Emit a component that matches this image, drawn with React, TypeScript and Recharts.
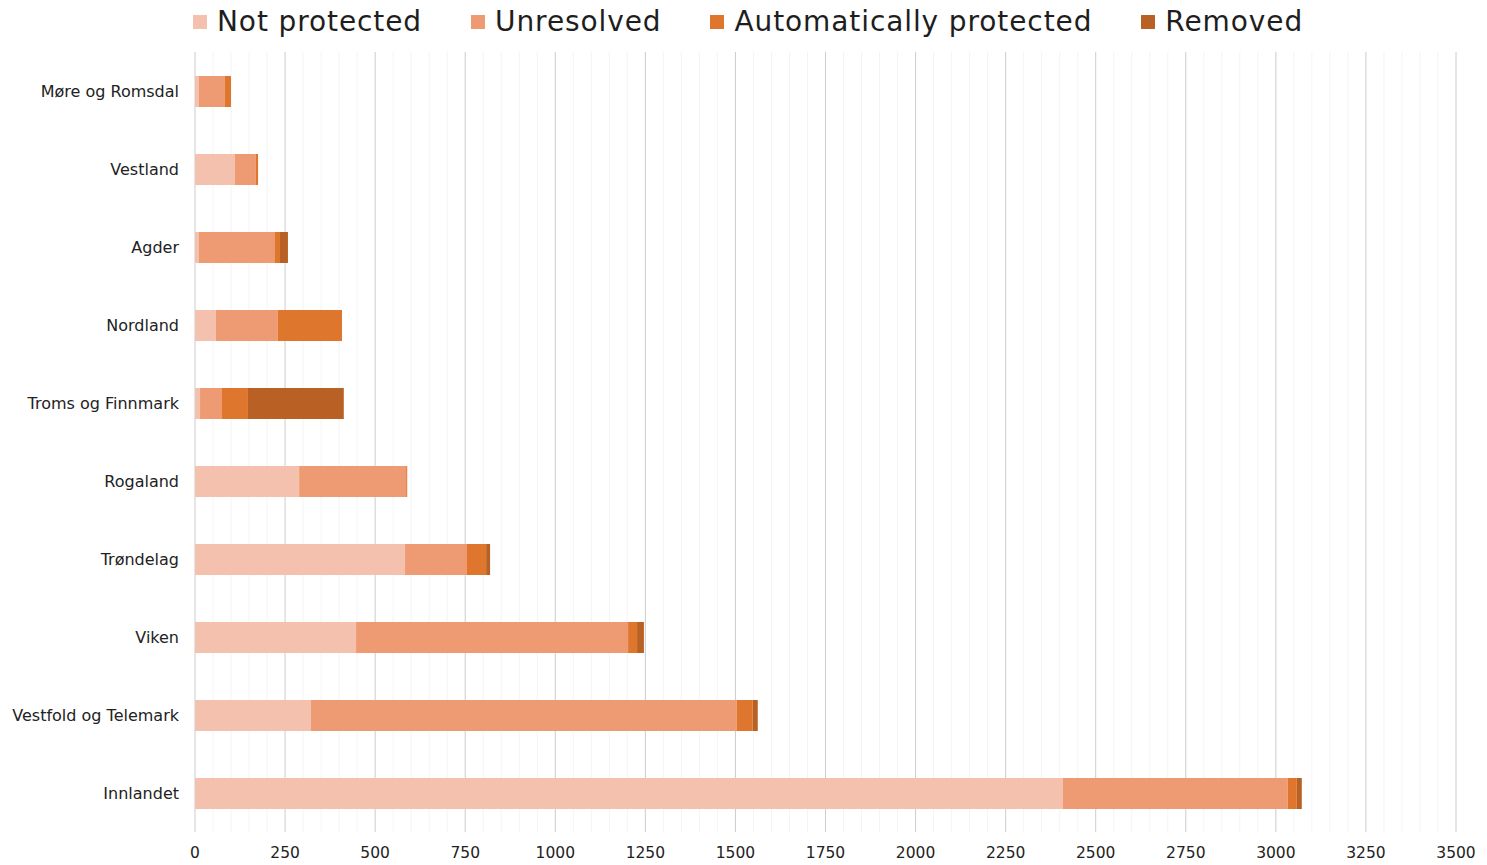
import React from 'react';
import { BarChart, Bar, XAxis, YAxis, CartesianGrid } from 'recharts';

const regions = [
  'Møre og Romsdal',
  'Vestland',
  'Agder',
  'Nordland',
  'Troms og Finnmark',
  'Rogaland',
  'Trøndelag',
  'Viken',
  'Vestfold og Telemark',
  'Innlandet',
];
const notProtected = [11, 111, 11, 58, 14, 289, 583, 447, 322, 2409];
const unresolved = [72, 58, 211, 172, 61, 297, 172, 755, 1182, 624];
const autoProtected = [17, 6, 14, 178, 72, 3, 53, 25, 44, 25];
const removed = [0, 0, 22, 0, 266, 0, 11, 19, 14, 14];

const xTicks = [0, 250, 500, 750, 1000, 1250, 1500, 1750, 2000, 2250, 2500, 2750, 3000, 3250, 3500];
const minorStep = 50;

const series = [
  { key: 'notProtected', name: 'Not protected', color: '#f4c1ae' },
  { key: 'unresolved', name: 'Unresolved', color: '#ee9a72' },
  { key: 'autoProtected', name: 'Automatically protected', color: '#df762e' },
  { key: 'removed', name: 'Removed', color: '#b96024' },
];

const data = regions.map((region, i) => ({
  region,
  notProtected: notProtected[i],
  unresolved: unresolved[i],
  autoProtected: autoProtected[i],
  removed: removed[i],
}));

// faint minor lines between the labelled ticks
const minorTicks: number[] = [];
for (let v = 0; v <= xTicks[xTicks.length - 1]; v += minorStep) {
  if (v % 250 !== 0) minorTicks.push(v);
}

const font = '"DejaVu Sans", Verdana, sans-serif';

const TopLegend = () => (
  <div
    style={{
      position: 'absolute',
      top: 5,
      left: 193,
      display: 'flex',
      alignItems: 'center',
      fontFamily: font,
      fontSize: 28,
      letterSpacing: 0.9,
      color: '#1e1e1e',
      whiteSpace: 'nowrap',
    }}
  >
    {series.map((s) => (
      <div key={s.key} style={{ display: 'flex', alignItems: 'center', marginRight: 49 }}>
        <span style={{ width: 14, height: 14, background: s.color, marginRight: 10 }} />
        <span>{s.name}</span>
      </div>
    ))}
  </div>
);

export default function App() {
  return (
    <div style={{ position: 'absolute', left: 0, top: 0, width: 1487, height: 865, background: '#fff' }}>
      <TopLegend />
      <BarChart
        width={1487}
        height={865}
        data={data}
        layout="vertical"
        margin={{ top: 52, right: 31, bottom: 3, left: 0 }}
      >
        <CartesianGrid horizontal={false} verticalValues={minorTicks} stroke="#f4f4f4" />
        <CartesianGrid horizontal={false} stroke="#cccccc" />
        <XAxis
          type="number"
          domain={[0, 3500]}
          ticks={xTicks}
          interval={0}
          axisLine={false}
          tickLine={false}
          tickMargin={9}
          tick={{ fontFamily: font, fontSize: 15.5, fill: '#222' }}
        />
        <YAxis
          type="category"
          dataKey="region"
          width={195}
          axisLine={false}
          tickLine={false}
          tickMargin={10}
          interval={0}
          tick={{ fontFamily: font, fontSize: 16, fill: '#222' }}
        />
        {series.map((s) => (
          <Bar
            key={s.key}
            dataKey={s.key}
            name={s.name}
            stackId="a"
            fill={s.color}
            barSize={31}
            isAnimationActive={false}
          />
        ))}
      </BarChart>
    </div>
  );
}
